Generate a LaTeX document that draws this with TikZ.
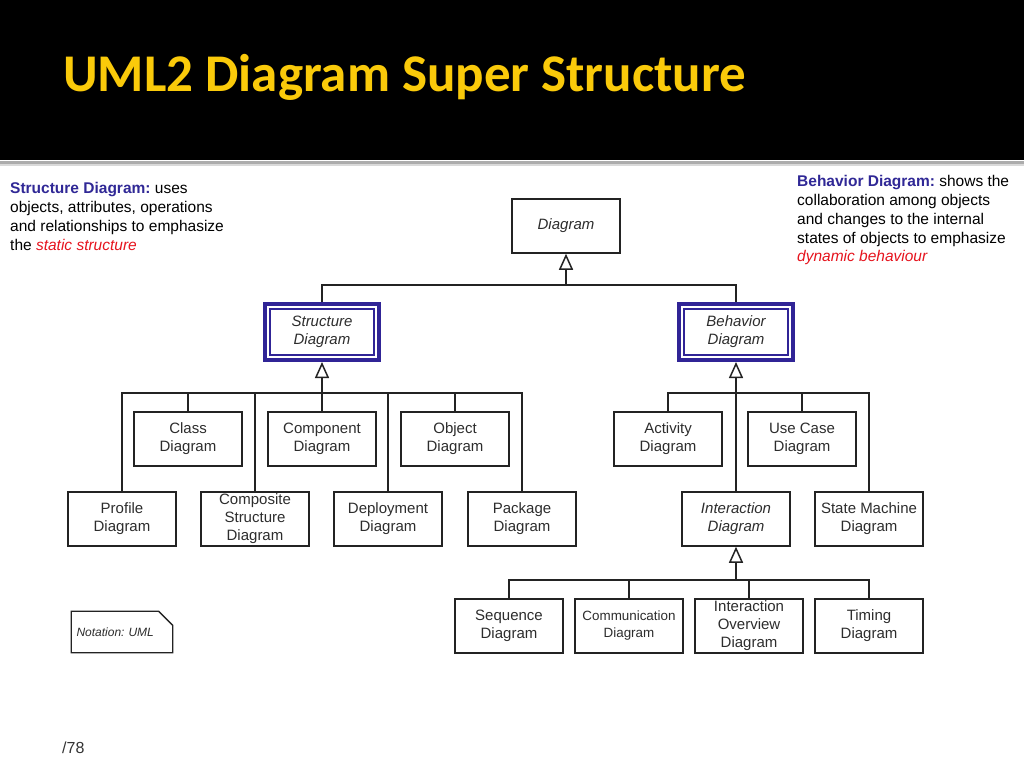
\documentclass[tikz,border=0pt]{standalone}
\usepackage{fontspec}
\setmainfont{Liberation Sans}
\newfontfamily\titlefont{Carlito}
\usetikzlibrary{arrows.meta}
\frenchspacing
\definecolor{titleyellow}{RGB}{250,202,10}
\definecolor{hiblue}{RGB}{48,36,150}
\definecolor{headblue}{RGB}{48,40,150}
\definecolor{accentred}{RGB}{230,20,30}
\definecolor{boxtext}{RGB}{45,45,45}
\definecolor{linegrey}{RGB}{35,35,35}
\tikzset{
  umlbox/.style={draw=linegrey, line width=1.5pt, minimum width=108pt, minimum height=54pt,
    inner sep=0pt, align=center, text=boxtext,
    font=\fontsize{15}{18}\selectfont},
  abstractbox/.style={umlbox, font=\fontsize{15}{18}\selectfont\itshape},
  hibox/.style={draw=hiblue, line width=4pt, minimum width=114pt, minimum height=56pt,
    inner sep=0pt, align=center, text=boxtext,
    font=\fontsize{15}{18}\selectfont\itshape},
  innerline/.style={draw=hiblue, line width=1.4pt},
  treeline/.style={draw=linegrey, line width=1.5pt},
  gen/.style={treeline, -{Triangle[open, length=16pt, width=14pt, line width=1.5pt]}},
  desc/.style={anchor=north west, inner sep=0pt, align=left, text=black,
    font=\fontsize{15.5}{18.7}\selectfont},
}
\begin{document}
\begin{tikzpicture}[x=1pt, y=-1pt]
\useasboundingbox (0,0) rectangle (1024,768);
\fill[white] (0,0) rectangle (1024,768);
% header
\fill[black] (0,0) rectangle (1024,160);
\fill[gray!65] (0,161) rectangle (1024,163.5);
\fill[gray!30] (0,163.5) rectangle (1024,165.5);
\node[anchor=base west, inner sep=0pt, text=titleyellow, font=\titlefont\bfseries\fontsize{53}{60}\selectfont] (title) at (63,91) {UML2 Diagram Super Structure};

% descriptions
\node[desc] (sdesc) at (10,182.5) {\textcolor{headblue}{\bfseries Structure Diagram:} uses\\objects, attributes, operations\\and relationships to emphasize\\the \textcolor{accentred}{\itshape static structure}};
\node[desc] (bdesc) at (797,175.5) {\textcolor{headblue}{\bfseries Behavior Diagram:} shows the\\collaboration among objects\\and changes to the internal\\states of objects to emphasize\\\textcolor{accentred}{\itshape dynamic behaviour}};

% top
\node[abstractbox] (diag) at (566,226) {Diagram};
\node[hibox] (struct) at (322,332) {Structure\\Diagram};
\node[hibox] (behav) at (736,332) {Behavior\\Diagram};
\draw[innerline] ([shift={(7,7)}]struct.north west) rectangle ([shift={(-7,-7)}]struct.south east);
\draw[innerline] ([shift={(7,7)}]behav.north west) rectangle ([shift={(-7,-7)}]behav.south east);

% structure children
\node[umlbox] (class) at (188,439) {Class\\Diagram};
\node[umlbox] (component) at (322,439) {Component\\Diagram};
\node[umlbox] (object) at (455,439) {Object\\Diagram};
\node[umlbox] (profile) at (122,519) {Profile\\Diagram};
\node[umlbox] (composite) at (255,519) {Composite\\Structure\\Diagram};
\node[umlbox] (deployment) at (388,519) {Deployment\\Diagram};
\node[umlbox] (package) at (522,519) {Package\\Diagram};

% behavior children
\node[umlbox] (activity) at (668,439) {Activity\\Diagram};
\node[umlbox] (usecase) at (802,439) {Use Case\\Diagram};
\node[abstractbox] (interaction) at (736,519) {Interaction\\Diagram};
\node[umlbox] (state) at (869,519) {State Machine\\Diagram};

% interaction children
\node[umlbox] (sequence) at (509,626) {Sequence\\Diagram};
\node[umlbox, font=\fontsize{13.4}{17}\selectfont] (communication) at (629,626) {Communication\\Diagram};
\node[umlbox] (overview) at (749,626) {Interaction\\Overview\\Diagram};
\node[umlbox] (timing) at (869,626) {Timing\\Diagram};

% note
\node[minimum width=101pt, minimum height=41pt, inner xsep=5pt, inner ysep=0pt, text width=91pt, align=left,
  text=boxtext, font=\fontsize{12}{14}\selectfont\itshape] (note) at (122,632) {Notation: UML};
\draw[treeline, line width=1.3pt] (note.north west) -- ([shift={(-14,0)}]note.north east) -- ([shift={(0,14)}]note.north east) -- (note.south east) -- (note.south west) -- cycle;

% page number
\node[anchor=base west, inner sep=0pt, text=black!80, font=\fontsize{16}{18}\selectfont] (pagenum) at (62,753) {/78};

% junctions
\coordinate (tj) at (566,285);
\coordinate (sj) at (322,393);
\coordinate (bj) at (736,393);
\coordinate (ij) at (736,580);

% top tree
\draw[treeline] (struct.north) |- (tj) -| (behav.north);
\draw[gen] (tj) -- (diag.south);

% structure tree
\draw[treeline] (profile.north) |- (sj) -| (package.north);
\draw[treeline] (class.north) -- (class.north |- sj);
\draw[treeline] (composite.north) -- (composite.north |- sj);
\draw[treeline] (component.north) -- (sj);
\draw[treeline] (deployment.north) -- (deployment.north |- sj);
\draw[treeline] (object.north) -- (object.north |- sj);
\draw[gen] (sj) -- (struct.south);

% behavior tree
\draw[treeline] (activity.north) |- (bj) -| (state.north);
\draw[treeline] (usecase.north) -- (usecase.north |- bj);
\draw[treeline] (interaction.north) -- (bj);
\draw[gen] (bj) -- (behav.south);

% interaction tree
\draw[treeline] (sequence.north) |- (ij) -| (timing.north);
\draw[treeline] (communication.north) -- (communication.north |- ij);
\draw[treeline] (overview.north) -- (overview.north |- ij);
\draw[gen] (ij) -- (interaction.south);
\end{tikzpicture}
\end{document}
